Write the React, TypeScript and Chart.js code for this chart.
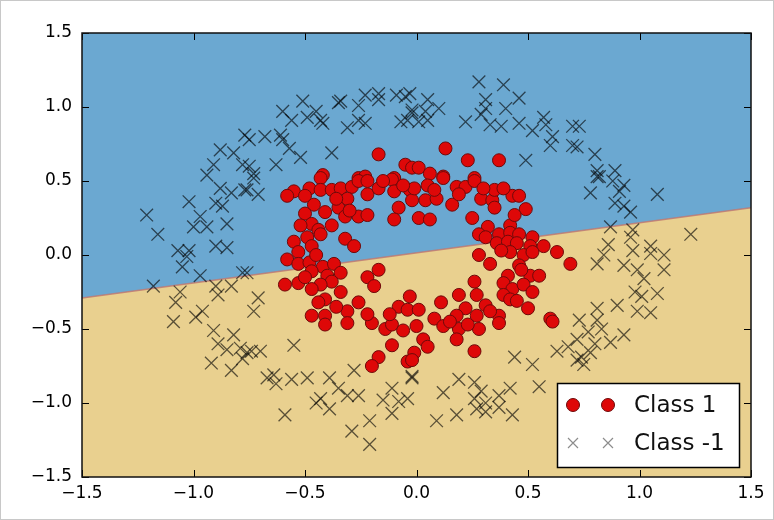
import { useEffect, useRef } from "react";
import { Chart, registerables } from "chart.js";

Chart.register(...registerables);

const xTickValues = [-1.5, -1.0, -0.5, 0.0, 0.5, 1.0, 1.5];
const yTickValues = [-1.5, -1.0, -0.5, 0.0, 0.5, 1.0, 1.5];
const xTickLabels = ["\u22121.5", "\u22121.0", "\u22120.5", "0.0", "0.5", "1.0", "1.5"];
const yTickLabels = ["\u22121.5", "\u22121.0", "\u22120.5", "0.0", "0.5", "1.0", "1.5"];

const boundaryX = [-1.5, 1.5];
const boundaryY = [-0.29, 0.32];

const legendLabels = ["Class 1", "Class -1"];

const class1: [number, number][] = [
  [-0.17, 0.68], [-0.42, 0.54], [-0.26, 0.52], [-0.23, 0.53], [-0.10, 0.52], [-0.05, 0.61], [-0.02, 0.59],
  [0.13, 0.72], [0.23, 0.64], [0.37, 0.64], [0.01, 0.59], [0.06, 0.55], [0.12, 0.53], [0.26, 0.52],
  [-0.55, 0.43], [-0.58, 0.40], [-0.48, 0.45], [-0.43, 0.52], [-0.43, 0.44], [-0.38, 0.44], [-0.34, 0.45],
  [-0.29, 0.46], [-0.26, 0.50], [-0.22, 0.50], [-0.22, 0.41], [-0.17, 0.45], [-0.11, 0.51], [-0.10, 0.43],
  [-0.03, 0.44], [-0.02, 0.37], [-0.46, 0.34], [-0.50, 0.28], [-0.41, 0.29], [-0.35, 0.32], [-0.31, 0.38],
  [-0.32, 0.26], [-0.26, 0.26], [-0.22, 0.27], [-0.08, 0.32], [-0.10, 0.24], [-0.47, 0.21], [-0.44, 0.17],
  [-0.38, 0.20], [-0.49, 0.12], [-0.43, 0.14], [-0.32, 0.11], [-0.28, 0.06], [-0.55, 0.09], [-0.53, 0.02],
  [-0.47, 0.06], [-0.58, -0.03], [-0.53, -0.06], [-0.48, -0.05], [-0.42, -0.08], [-0.37, -0.06], [-0.47, -0.11],
  [-0.40, -0.14], [-0.34, -0.12], [-0.38, -0.18], [-0.34, -0.25], [-0.43, -0.20], [-0.59, -0.20], [-0.53, -0.19],
  [-0.47, -0.23], [-0.17, -0.10], [-0.22, -0.15], [-0.19, -0.21], [-0.41, -0.30], [-0.26, -0.32], [-0.31, -0.38],
  [-0.47, -0.41], [-0.41, -0.41], [-0.08, -0.35], [-0.03, -0.28], [-0.04, -0.37],
  [-0.01, 0.45], [0.05, 0.47], [0.04, 0.37], [0.09, 0.38], [0.12, 0.52], [0.18, 0.46], [0.22, 0.46],
  [0.26, 0.50], [0.16, 0.34], [0.19, 0.41], [0.29, 0.38], [0.34, 0.37], [0.35, 0.44], [0.35, 0.32],
  [0.43, 0.40], [0.46, 0.40], [0.49, 0.31], [0.01, 0.25], [0.06, 0.24], [0.25, 0.25], [0.32, 0.19],
  [0.28, 0.14], [0.31, 0.12], [0.37, 0.14], [0.42, 0.20], [0.42, 0.15], [0.46, 0.14], [0.52, 0.12],
  [0.36, 0.08], [0.41, 0.09], [0.45, 0.08], [0.51, 0.06], [0.57, 0.06], [0.42, 0.02], [0.48, 0.00],
  [0.52, 0.02], [0.28, 0.00], [0.33, -0.06], [0.46, -0.07], [0.63, 0.02], [0.69, -0.06], [0.51, -0.14],
  [0.41, -0.14], [0.55, -0.14], [0.39, -0.19], [0.43, -0.23], [0.48, -0.20], [0.52, -0.25], [0.39, -0.27],
  [0.42, -0.30], [0.26, -0.18], [0.19, -0.27], [0.27, -0.27], [0.11, -0.32], [0.22, -0.36], [0.31, -0.34],
  [0.37, -0.41], [0.50, -0.36], [0.60, -0.43], [0.01, -0.37], [0.08, -0.43], [0.18, -0.41], [0.27, -0.41],
  [-0.41, -0.47], [-0.31, -0.46], [-0.20, -0.46], [-0.14, -0.50], [-0.11, -0.47], [-0.06, -0.51], [-0.11, -0.61],
  [-0.17, -0.69], [-0.20, -0.75], [-0.04, -0.72],
  [0.00, -0.48], [0.03, -0.57], [0.05, -0.62], [-0.01, -0.66], [-0.02, -0.71], [0.12, -0.48], [0.19, -0.50],
  [0.18, -0.57], [0.28, -0.50], [0.37, -0.46], [0.26, -0.65], [0.61, -0.45],
  [-0.50, 0.40], [-0.36, 0.38], [-0.30, 0.30], [-0.52, 0.20], [-0.45, 0.00], [-0.50, -0.15], [-0.44, -0.32],
  [-0.36, -0.35], [-0.22, -0.40], [-0.12, -0.40], [0.15, -0.45], [0.23, -0.47], [0.33, -0.38], [0.45, -0.31],
  [0.47, -0.10], [0.38, 0.03], [0.44, 0.27], [0.39, 0.45], [0.30, 0.45], [0.08, 0.44], [-0.06, 0.47],
  [-0.15, 0.50],
];

const classNeg1: [number, number][] = [
  [-0.77, 0.81], [-0.88, 0.71], [-0.82, 0.69], [-0.78, 0.61], [-0.91, 0.61], [-0.94, 0.54],
  [-0.51, 1.04], [-0.60, 0.97], [-0.56, 0.91], [-0.49, 0.93], [-0.45, 0.97], [-0.43, 0.91], [-0.42, 0.89],
  [-0.35, 1.03], [-0.34, 1.04], [-0.26, 1.01], [-0.23, 1.08], [-0.17, 1.05], [-0.17, 1.09], [-0.09, 1.08],
  [-0.05, 1.07], [-0.02, 0.98], [-0.07, 0.90], [-0.04, 0.91], [-0.26, 0.91], [-0.23, 0.89], [-0.31, 0.86],
  [-0.75, 0.78], [-0.68, 0.80], [-0.61, 0.81], [-0.60, 0.78], [-0.57, 0.72], [-0.52, 0.66], [-0.63, 0.61],
  [-0.38, 0.69], [-0.75, 0.60], [-0.73, 0.55],
  [-0.03, 1.09], [0.05, 1.05], [0.10, 0.99], [-0.02, 0.96], [0.04, 0.97], [0.01, 0.90], [0.05, 0.91],
  [0.28, 1.17], [0.39, 1.15], [0.31, 1.05], [0.31, 0.99], [0.29, 0.95], [0.22, 0.90], [0.33, 0.88],
  [0.38, 0.87], [0.40, 0.99], [0.46, 1.06], [0.46, 0.89], [0.52, 0.84], [0.57, 0.93], [0.58, 0.88],
  [0.61, 0.80], [0.60, 0.74], [0.70, 0.87], [0.70, 0.74], [0.49, 0.64],
  [0.73, 0.87], [0.72, 0.73], [0.80, 0.68], [0.81, 0.57], [0.89, 0.57], [0.82, 0.53],
  [-0.88, 0.45], [-0.83, 0.42], [-0.77, 0.44], [-1.02, 0.36], [-0.90, 0.35], [-0.87, 0.33], [-1.21, 0.27],
  [-0.97, 0.26], [-1.00, 0.19], [-0.94, 0.19], [-0.85, 0.21], [-1.16, 0.14], [-1.07, 0.03], [-1.02, 0.03],
  [-1.03, -0.01], [-0.90, 0.06], [-0.85, 0.05], [-1.05, -0.08], [-0.97, -0.14], [-0.78, -0.12], [-1.18, -0.21],
  [-1.06, -0.25], [-1.08, -0.32], [-0.90, -0.21], [-0.83, -0.21], [-0.89, -0.27], [-0.96, -0.38], [-0.99, -0.42],
  [-1.09, -0.45],
  [-0.73, 0.52], [-0.76, 0.44], [-0.71, 0.41], [-0.76, -0.12], [-0.71, -0.29], [-0.73, -0.38],
  [0.81, 0.53], [0.88, 0.50], [0.93, 0.47], [0.78, 0.42], [0.91, 0.43], [1.08, 0.41], [0.89, 0.35],
  [0.93, 0.33], [0.96, 0.29], [0.87, 0.19], [0.97, 0.17], [0.96, 0.12], [1.23, 0.14], [0.86, 0.07],
  [0.84, 0.00], [0.81, -0.06], [0.97, 0.03], [1.05, 0.06], [1.05, 0.01], [1.11, 0.00], [0.93, -0.07],
  [0.99, -0.10], [1.02, -0.16], [1.11, -0.10], [0.98, -0.25], [1.01, -0.28], [1.08, -0.26], [0.90, -0.34],
  [0.81, -0.36], [0.99, -0.38], [1.05, -0.39], [0.73, -0.44], [0.81, -0.44],
  [-0.91, -0.51], [-0.82, -0.54], [-0.89, -0.60], [-0.85, -0.64], [-0.79, -0.63], [-0.78, -0.70], [-0.92, -0.73],
  [-0.83, -0.78],
  [-0.74, -0.65], [-0.70, -0.65], [-0.76, -0.66], [-0.55, -0.61], [-0.67, -0.83], [-0.64, -0.81], [-0.63, -0.87],
  [-0.56, -0.84], [-0.49, -0.83], [-0.59, -1.08], [-0.39, -0.83], [-0.35, -0.90], [-0.43, -0.97], [-0.45, -1.00],
  [-0.39, -1.04], [-0.28, -0.78], [-0.31, -0.95], [-0.26, -0.95], [-0.21, -1.12], [-0.29, -1.19], [-0.21, -1.28],
  [-0.11, -0.90], [-0.15, -0.98], [-0.08, -0.99], [-0.11, -1.07], [-0.04, -0.97], [-0.02, -0.82],
  [0.44, -0.69], [0.52, -0.74], [0.55, -0.89], [0.63, -0.65], [0.68, -0.62], [0.72, -0.71], [-0.02, -0.83],
  [0.12, -0.93], [0.19, -0.84], [0.26, -0.86], [0.29, -0.92], [0.26, -0.97], [0.31, -1.00], [0.27, -1.04],
  [0.31, -1.06], [0.37, -1.03], [0.37, -0.95], [0.42, -0.90], [0.43, -1.08], [0.18, -1.08], [0.09, -1.12],
  [0.77, -0.52], [0.72, -0.57], [0.80, -0.60], [0.87, -0.59], [0.93, -0.54], [0.74, -0.69], [0.75, -0.74],
  [0.83, -0.50], [0.78, -0.66],
];

const BLUE = "rgb(107,168,209)";
const TAN = "rgb(233,208,143)";
const FONT = "'DejaVu Sans', sans-serif";

function drawCross(ctx: CanvasRenderingContext2D, x: number, y: number, h: number) {
  ctx.beginPath();
  ctx.moveTo(x - h, y - h);
  ctx.lineTo(x + h, y + h);
  ctx.moveTo(x - h, y + h);
  ctx.lineTo(x + h, y - h);
  ctx.stroke();
}

const framePlugin = {
  id: "frameTicksLegend",
  afterDraw(chart: any) {
    const { ctx, chartArea: a, scales } = chart;
    const xs = scales.x;
    const ys = scales.y;
    ctx.save();
    ctx.strokeStyle = "#000";
    ctx.lineWidth = 1;
    const tl = 7;
    xTickValues.forEach((v) => {
      const px = Math.round(xs.getPixelForValue(v)) + 0.5;
      ctx.beginPath();
      ctx.moveTo(px, a.top);
      ctx.lineTo(px, a.top + tl);
      ctx.moveTo(px, a.bottom);
      ctx.lineTo(px, a.bottom - tl);
      ctx.stroke();
    });
    yTickValues.forEach((v) => {
      const py = Math.round(ys.getPixelForValue(v)) + 0.5;
      ctx.beginPath();
      ctx.moveTo(a.left, py);
      ctx.lineTo(a.left + tl, py);
      ctx.moveTo(a.right, py);
      ctx.lineTo(a.right - tl, py);
      ctx.stroke();
    });
    ctx.lineWidth = 1.5;
    ctx.strokeStyle = "#111";
    ctx.strokeRect(a.left, a.top, a.right - a.left, a.bottom - a.top);

    // legend
    const lx = 557, ly = 383, lw = 182, lh = 84;
    ctx.fillStyle = "#fff";
    ctx.fillRect(lx, ly, lw, lh);
    ctx.lineWidth = 1.5;
    ctx.strokeStyle = "#000";
    ctx.strokeRect(lx + 0.5, ly + 0.5, lw, lh);
    const row1 = ly + 22;
    const row2 = ly + 60;
    [lx + 16, lx + 51].forEach((mx) => {
      ctx.beginPath();
      ctx.arc(mx, row1, 6.5, 0, Math.PI * 2);
      ctx.fillStyle = "rgb(222,8,8)";
      ctx.fill();
      ctx.lineWidth = 1;
      ctx.strokeStyle = "rgb(110,10,10)";
      ctx.stroke();
      ctx.strokeStyle = "rgba(0,0,0,0.45)";
      ctx.lineWidth = 1.2;
      drawCross(ctx, mx, row2, 5);
    });
    ctx.fillStyle = "#111";
    ctx.font = `23px ${FONT}`;
    ctx.textBaseline = "middle";
    ctx.textAlign = "left";
    ctx.fillText(legendLabels[0], lx + 77, row1 + 1);
    ctx.fillText(legendLabels[1], lx + 77, row2 + 1);

    ctx.strokeStyle = "#c8c8c8";
    ctx.lineWidth = 1;
    ctx.strokeRect(0.5, 0.5, chart.width - 1, chart.height - 1);
    ctx.restore();
  },
};

export default function App() {
  const ref = useRef<HTMLCanvasElement | null>(null);
  useEffect(() => {
    if (!ref.current) return;
    const boundary = boundaryX.map((x, i) => ({ x, y: boundaryY[i] }));
    const chart = new Chart(ref.current, {
      type: "scatter",
      data: {
        datasets: [
          {
            label: legendLabels[1],
            data: classNeg1.map(([x, y]) => ({ x, y })),
            pointStyle: "crossRot",
            pointRadius: 9,
            borderColor: "rgba(0,0,0,0.62)",
            backgroundColor: "rgba(0,0,0,0.62)",
            borderWidth: 1.3,
            order: 1,
          } as any,
          {
            label: legendLabels[0],
            data: class1.map(([x, y]) => ({ x, y })),
            pointStyle: "circle",
            pointRadius: 6.5,
            backgroundColor: "rgb(222,8,8)",
            borderColor: "rgb(110,10,10)",
            borderWidth: 1,
            order: 2,
          } as any,
          {
            type: "line",
            label: "edge",
            data: boundary,
            borderColor: "rgba(190,120,110,0.85)",
            borderWidth: 1.5,
            pointRadius: 0,
            fill: false,
            order: 3,
          } as any,
          {
            type: "line",
            label: "upper",
            data: boundary,
            borderWidth: 0,
            pointRadius: 0,
            backgroundColor: BLUE,
            fill: "end",
            order: 4,
          } as any,
          {
            type: "line",
            label: "lower",
            data: boundary,
            borderWidth: 0,
            pointRadius: 0,
            backgroundColor: TAN,
            fill: "start",
            order: 5,
          } as any,
        ],
      },
      options: {
        animation: false,
        responsive: false,
        events: [],
        layout: { padding: { left: 0, right: 23, top: 33, bottom: 0 } },
        plugins: {
          legend: { display: false },
          tooltip: { enabled: false },
          title: { display: false },
        },
        scales: {
          x: {
            type: "linear",
            min: -1.5,
            max: 1.5,
            afterBuildTicks: (s: any) => {
              s.ticks = xTickValues.map((v) => ({ value: v }));
            },
            afterFit: (s: any) => {
              s.height = 43;
            },
            grid: { display: false, drawTicks: false },
            border: { display: false },
            ticks: {
              padding: 6,
              color: "#000",
              font: { family: FONT, size: 17 },
              callback: (v: any) => {
                const i = xTickValues.findIndex((t) => Math.abs(t - Number(v)) < 1e-6);
                return i >= 0 ? xTickLabels[i] : "";
              },
              maxRotation: 0,
              autoSkip: false,
            },
          },
          y: {
            type: "linear",
            min: -1.5,
            max: 1.5,
            afterBuildTicks: (s: any) => {
              s.ticks = yTickValues.map((v) => ({ value: v }));
            },
            afterFit: (s: any) => {
              s.width = 82;
            },
            grid: { display: false, drawTicks: false },
            border: { display: false },
            ticks: {
              padding: 10,
              color: "#000",
              font: { family: FONT, size: 17 },
              callback: (v: any) => {
                const i = yTickValues.findIndex((t) => Math.abs(t - Number(v)) < 1e-6);
                return i >= 0 ? yTickLabels[i] : "";
              },
              autoSkip: false,
            },
          },
        },
      },
      plugins: [framePlugin],
    });
    return () => chart.destroy();
  }, []);
  return (
    <div style={{ position: "fixed", left: 0, top: 0, width: 774, height: 520, background: "#fff" }}>
      <canvas ref={ref} width={774} height={520} style={{ display: "block", width: 774, height: 520 }} />
    </div>
  );
}
